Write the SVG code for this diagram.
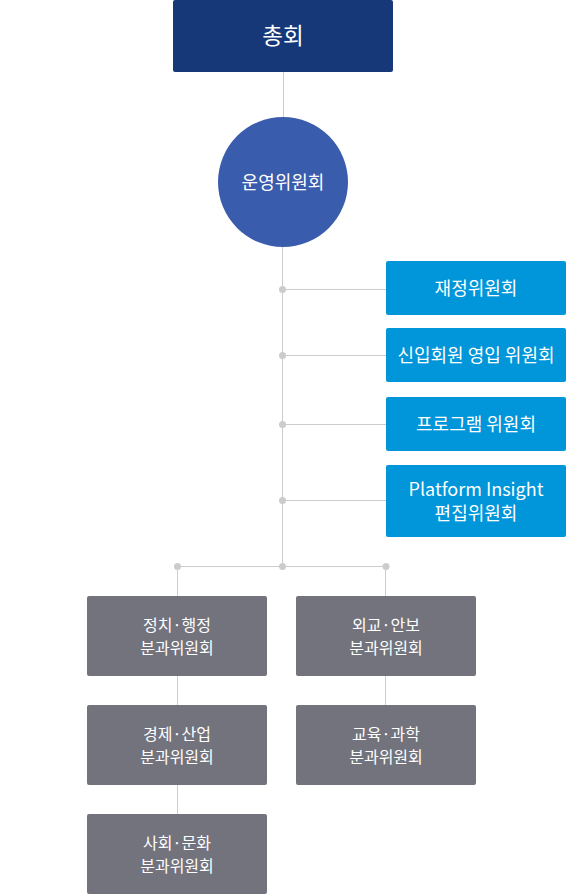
<svg xmlns="http://www.w3.org/2000/svg" width="566" height="894" viewBox="0 0 566 894">
<style>
text{font-family:"Noto Sans CJK KR","Noto Sans",sans-serif;fill:#fff;text-anchor:middle}
.t{font-size:16px}
.b{font-size:18px}
.ln{stroke:#cccccc;stroke-width:1;fill:none}
.dot{fill:#cccccc}
.blue{fill:#0096d9}
.grey{fill:#72737d}
</style>
<g id="connectors">
<line class="ln" x1="283.5" y1="72" x2="283.5" y2="118"/>
<line class="ln" x1="282.5" y1="246" x2="282.5" y2="566"/>
<line class="ln" x1="282" y1="289.5" x2="386" y2="289.5"/>
<line class="ln" x1="282" y1="355.5" x2="386" y2="355.5"/>
<line class="ln" x1="282" y1="424.5" x2="386" y2="424.5"/>
<line class="ln" x1="282" y1="500.5" x2="386" y2="500.5"/>
<line class="ln" x1="177" y1="566.5" x2="386" y2="566.5"/>
<line class="ln" x1="177.5" y1="566" x2="177.5" y2="596"/>
<line class="ln" x1="385.5" y1="566" x2="385.5" y2="596"/>
<line class="ln" x1="177.5" y1="676" x2="177.5" y2="705"/>
<line class="ln" x1="177.5" y1="785" x2="177.5" y2="814"/>
<line class="ln" x1="385.5" y1="676" x2="385.5" y2="705"/>
<circle class="dot" cx="282.5" cy="289.5" r="3.5"/>
<circle class="dot" cx="282.5" cy="355.5" r="3.5"/>
<circle class="dot" cx="282.5" cy="424.5" r="3.5"/>
<circle class="dot" cx="282.5" cy="500.5" r="3.5"/>
<circle class="dot" cx="282.5" cy="566.5" r="3.5"/>
<circle class="dot" cx="177.5" cy="566.5" r="3.5"/>
<circle class="dot" cx="386" cy="566.5" r="3.5"/>
</g>
<g id="general">
<rect x="173" y="0" width="220" height="72" rx="2" fill="#173878"/>
<text x="283" y="44" font-size="22.5">총회</text>
</g>
<g id="steering">
<circle cx="283" cy="182" r="65" fill="#3a5cad"/>
<text class="b" x="283" y="189">운영위원회</text>
</g>
<g id="finance">
<rect class="blue" x="386" y="261" width="180" height="54" rx="2"/>
<text class="b" x="476" y="294.5">재정위원회</text>
</g>
<g id="membership">
<rect class="blue" x="386" y="328" width="180" height="54" rx="2"/>
<text class="b" x="476" y="361.5">신입회원 영입 위원회</text>
</g>
<g id="program">
<rect class="blue" x="386" y="397" width="180" height="54" rx="2"/>
<text class="b" x="476" y="430.5">프로그램 위원회</text>
</g>
<g id="platform">
<rect class="blue" x="386" y="465" width="180" height="72" rx="2"/>
<text class="b" x="476" y="496">Platform Insight</text>
<text class="b" x="476" y="520">편집위원회</text>
</g>
<g id="politics">
<rect class="grey" x="87" y="596" width="180" height="80" rx="2"/>
<text class="t" x="177" y="631">정치·행정</text>
<text class="t" x="177" y="654">분과위원회</text>
</g>
<g id="diplomacy">
<rect class="grey" x="296" y="596" width="180" height="80" rx="2"/>
<text class="t" x="386" y="631">외교·안보</text>
<text class="t" x="386" y="654">분과위원회</text>
</g>
<g id="economy">
<rect class="grey" x="87" y="705" width="180" height="80" rx="2"/>
<text class="t" x="177" y="740">경제·산업</text>
<text class="t" x="177" y="763">분과위원회</text>
</g>
<g id="education">
<rect class="grey" x="296" y="705" width="180" height="80" rx="2"/>
<text class="t" x="386" y="740">교육·과학</text>
<text class="t" x="386" y="763">분과위원회</text>
</g>
<g id="society">
<rect class="grey" x="87" y="814" width="180" height="80" rx="2"/>
<text class="t" x="177" y="849">사회·문화</text>
<text class="t" x="177" y="872">분과위원회</text>
</g>
</svg>
